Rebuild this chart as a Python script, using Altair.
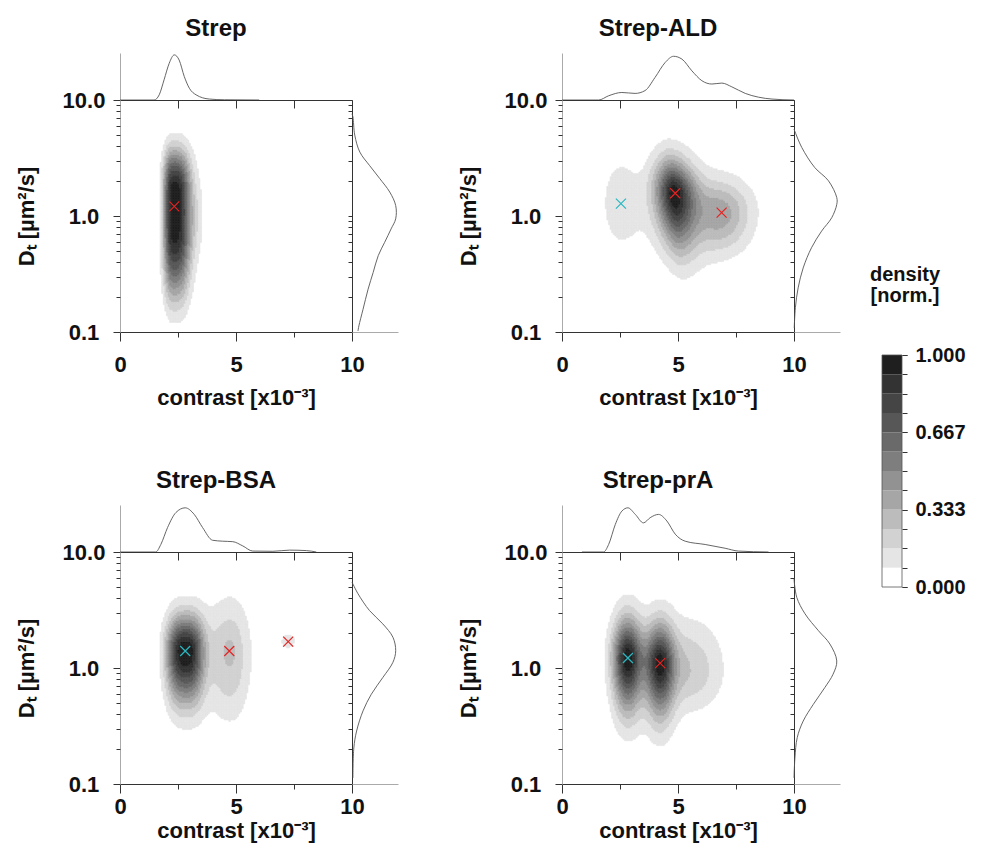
import numpy as np
import pandas as pd
import altair as alt

alt.data_transformers.disable_max_rows()

FONT = "Liberation Sans"

# ---------------- data ----------------
panel_names = ["Strep", "Strep-ALD", "Strep-BSA", "Strep-prA"]

# colour levels of the filled contours (12 bands of normalised density)
level_edges = [k / 12 for k in range(1, 12)]
level_greys = ["#ffffff", "#e5e5e5", "#d2d2d2", "#bcbcbc", "#a6a6a6", "#929292",
               "#7e7e7e", "#6a6a6a", "#575757", "#454545", "#333333", "#1f1f1f"]

# density blobs: contrast, D centre, sx left, sx right, s down, s up (log10 D),
#                weight, x sharpness, D sharpness, shear
strep_blobs = [
    (2.35, 1.26, 0.35, 0.50, 0.60, 0.36, 1.00, 2.6, 3.0, 0.0),
    (3.20, 1.00, 0.30, 0.30, 0.28, 0.28, 0.15, 2.0, 2.0, 0.0),
]
ald_blobs = [
    (4.85, 1.58, 0.52, 0.62, 0.30, 0.19, 1.00, 1.8, 1.8, -0.5),
    (6.90, 1.07, 0.70, 0.90, 0.23, 0.19, 0.36, 2.0, 2.0, 0.0),
    (2.50, 1.32, 0.55, 0.55, 0.27, 0.27, 0.14, 2.0, 2.0, 0.0),
    (5.00, 1.12, 1.60, 1.60, 0.28, 0.28, 0.11, 2.0, 2.0, 0.0),
]
bsa_blobs = [
    (2.81, 1.40, 0.60, 0.60, 0.30, 0.21, 1.00, 2.6, 2.0, 0.0),
    (4.75, 1.30, 0.80, 0.60, 0.38, 0.33, 0.26, 2.0, 2.0, 0.0),
    (4.72, 1.40, 0.12, 0.12, 0.05, 0.05, 0.07, 2.0, 2.0, 0.0),
    (7.25, 1.70, 0.28, 0.28, 0.057, 0.057, 0.13, 2.0, 2.0, 0.0),
]
pra_blobs = [
    (2.84, 1.22, 0.45, 0.45, 0.295, 0.225, 1.00, 2.0, 1.8, 0.0),
    (4.23, 1.10, 0.45, 0.45, 0.295, 0.225, 0.97, 2.0, 1.8, 0.0),
    (5.50, 0.95, 0.60, 1.00, 0.24, 0.30, 0.24, 2.0, 2.0, 0.0),
]

# peak markers (contrast, D)
strep_red = [(2.34, 1.21)]
strep_cyan = []
ald_red = [(4.88, 1.57), (6.88, 1.07)]
ald_cyan = [(2.54, 1.28)]
bsa_red = [(4.71, 1.40), (7.25, 1.69)]
bsa_cyan = [(2.81, 1.40)]
pra_red = [(4.23, 1.10)]
pra_cyan = [(2.84, 1.22)]

# top marginals: contrast vs relative density
strep_top_x = [0, 1.47, 1.69, 1.90, 2.12, 2.34, 2.55, 2.77, 2.99, 3.28, 3.85, 4.5, 6.0]
strep_top_h = [0, 0, 0.11, 0.43, 0.78, 0.96, 0.85, 0.50, 0.25, 0.11, 0.02, 0.005, 0]
ald_top_x = [0, 1.58, 2.01, 2.58, 3.15, 3.58, 4.01, 4.45, 4.81, 5.17, 5.6, 6.03, 6.46, 6.89, 7.32, 7.9, 8.47, 9.05, 10]
ald_top_h = [0, 0, 0.09, 0.16, 0.14, 0.20, 0.48, 0.80, 0.93, 0.87, 0.62, 0.41, 0.34, 0.36, 0.28, 0.14, 0.06, 0.02, 0]
bsa_top_x = [0, 1.54, 1.76, 2.05, 2.41, 2.81, 3.2, 3.56, 3.99, 4.43, 4.86, 5.29, 5.72, 6.59, 7.31, 8.03, 8.46]
bsa_top_h = [0, 0, 0.16, 0.52, 0.84, 0.94, 0.80, 0.52, 0.25, 0.23, 0.22, 0.13, 0.02, 0.015, 0.04, 0.03, 0]
pra_top_x = [0.86, 1.79, 2.01, 2.30, 2.58, 2.84, 3.16, 3.51, 3.80, 4.16, 4.52, 4.88, 5.31, 6.17, 7.03, 7.6, 8.9]
pra_top_h = [0, 0, 0.16, 0.59, 0.87, 0.94, 0.80, 0.62, 0.73, 0.80, 0.66, 0.38, 0.23, 0.16, 0.08, 0.02, 0]

# right marginals: D vs relative density
strep_side_d = [7.6, 7.16, 4.98, 3.56, 2.73, 2.11, 1.61, 1.23, 0.946, 0.774, 0.593, 0.455, 0.326, 0.234, 0.157, 0.113, 0.102]
strep_side_w = [0, 0.02, 0.06, 0.17, 0.38, 0.60, 0.82, 0.95, 0.95, 0.85, 0.71, 0.57, 0.46, 0.35, 0.24, 0.15, 0.13]
ald_side_d = [5.61, 3.89, 2.62, 2.01, 1.44, 1.26, 0.966, 0.741, 0.532, 0.357, 0.240, 0.162, 0.108]
ald_side_w = [0, 0.17, 0.45, 0.75, 0.93, 0.93, 0.82, 0.60, 0.38, 0.20, 0.09, 0.03, 0.005]
bsa_side_d = [5.50, 4.37, 3.13, 2.40, 1.84, 1.41, 1.12, 0.828, 0.594, 0.427, 0.286, 0.205, 0.113]
bsa_side_w = [0, 0.13, 0.38, 0.67, 0.89, 0.95, 0.89, 0.67, 0.42, 0.24, 0.10, 0.04, 0.02]
pra_side_d = [5.89, 4.07, 2.93, 2.10, 1.61, 1.15, 0.885, 0.678, 0.486, 0.349, 0.251, 0.168, 0.113]
pra_side_w = [0, 0.06, 0.24, 0.53, 0.78, 0.93, 0.85, 0.67, 0.42, 0.20, 0.07, 0.02, 0]

# axis ticks
x_major = [0, 5, 10]
x_minor = [2.5, 7.5]
x_top = [2.5, 5, 7.5]
y_major = [0.1, 1, 10]
y_minor = [0.2, 0.3, 0.4, 0.5, 0.6, 0.7, 0.8, 0.9, 2, 3, 4, 5, 6, 7, 8, 9]
cbar_ticks = [k / 12 for k in range(13)]
cbar_labels = [0, 1 / 3, 2 / 3, 1]

# ---------------- helpers ----------------
CROSS = "M-1,-1L1,1M-1,1L1,-1"
N = 145


def density_frame(blobs):
    xe = np.linspace(0, 10, N + 1)
    ue = np.linspace(-1, 1, N + 1)
    xc = (xe[:-1] + xe[1:]) / 2
    uc = (ue[:-1] + ue[1:]) / 2
    X, U = np.meshgrid(xc, uc)
    Z = np.zeros_like(X)
    for cx, cd, sxl, sxr, sdn, sup, w, px, pu, shear in blobs:
        cu = np.log10(cd)
        du = U - cu
        dx = X - cx - shear * du
        sx = np.where(dx < 0, sxl, sxr)
        su = np.where(du < 0, sdn, sup)
        Z += w * np.exp(-0.5 * (np.abs(dx / sx) ** px + np.abs(du / su) ** pu))
    Z = Z / Z.max()
    ii, jj = np.nonzero(Z >= 1 / 12)
    return pd.DataFrame({
        "x": np.round(xe[jj], 4), "x2": np.round(xe[jj + 1], 4),
        "d": np.round(10 ** ue[ii], 5), "d2": np.round(10 ** ue[ii + 1], 5),
        "z": np.round(Z[ii, jj], 4),
    })


color_scale = alt.Scale(type="threshold", domain=level_edges, range=level_greys)
xscale = alt.Scale(domain=[0, 10], nice=False, zero=False)
yscale = alt.Scale(type="log", domain=[0.1, 10], nice=False)


def main_chart(blobs, red, cyan, row):
    df = density_frame(blobs)
    lab_pad = 13 if row == 0 else 3
    ttl_pad = 12 if row == 0 else 3
    heat = alt.Chart(df).mark_rect(strokeWidth=0.6).encode(
        x=alt.X("x:Q", scale=xscale, axis=alt.Axis(
            values=x_major, format="d", tickSize=9, labelPadding=lab_pad,
            title="contrast [x10⁻³]", titlePadding=ttl_pad, domainColor="#333333", orient="bottom")),
        x2="x2:Q",
        y=alt.Y("d:Q", scale=yscale, axis=alt.Axis(
            values=y_major, format=".1f", tickSize=7, labelPadding=29.5, labelAlign="center",
            labelBaseline="middle", title="Dₜ [µm²/s]", titlePadding=24,
            domainColor="#aaaaaa", orient="left")),
        y2="d2:Q",
        color=alt.Color("z:Q", scale=color_scale, legend=None),
        stroke=alt.Stroke("z:Q", scale=color_scale, legend=None),
    )
    dummy = pd.DataFrame({"x": [0.0], "d": [1.0]})
    minor = alt.Chart(dummy).mark_point(opacity=0).encode(
        x=alt.X("x:Q", scale=xscale, axis=alt.Axis(values=x_minor, tickSize=5, labels=False,
                                                    domain=False, title=None, orient="bottom")),
        y=alt.Y("d:Q", scale=yscale, axis=alt.Axis(values=y_minor, tickSize=4, labels=False,
                                                    domain=False, title=None, orient="left")),
    )
    inner = alt.Chart(dummy).mark_point(opacity=0).encode(
        x=alt.X("x:Q", scale=xscale, axis=alt.Axis(values=x_top, orient="top", offset=-8, tickSize=8,
                                                    labels=False, domain=False, title=None)),
        y=alt.Y("d:Q", scale=yscale, axis=alt.Axis(values=y_minor + y_major, orient="right", offset=-4,
                                                    tickSize=4, labels=False, domain=False, title=None)),
    )
    layers = [heat, minor, inner]
    for pts, col in ((red, "#e62222"), (cyan, "#2ab8c2")):
        if pts:
            pdf = pd.DataFrame({"x": [p[0] for p in pts], "d": [p[1] for p in pts]})
            layers.append(alt.Chart(pdf).mark_point(shape=CROSS, size=100, filled=False, strokeWidth=1.2,
                                                    color=col, opacity=1).encode(
                x=alt.X("x:Q", scale=xscale, axis=None),
                y=alt.Y("d:Q", scale=yscale, axis=None)))
    return alt.layer(*layers).resolve_axis(x="independent", y="independent").properties(
        width=232, height=232, view=alt.ViewBackground(stroke="#333333", strokeWidth=1))


def top_chart(name, xs, hs):
    df = pd.DataFrame({"x": xs, "h": hs})
    return alt.Chart(df).mark_line(color="#555555", strokeWidth=0.9, interpolate="monotone").encode(
        x=alt.X("x:Q", scale=xscale, axis=None),
        y=alt.Y("h:Q", scale=alt.Scale(domain=[0, 1], nice=False),
                axis=alt.Axis(ticks=False, labels=False, domainColor="#aaaaaa", title=None)),
    ).properties(width=232, height=47, title=alt.TitleParams(name, dx=-20, offset=12))


def side_chart(ds, ws):
    df = pd.DataFrame({"d": ds, "w": ws})
    return alt.Chart(df).mark_line(color="#555555", strokeWidth=0.9, interpolate="catmull-rom").encode(
        x=alt.X("w:Q", scale=alt.Scale(domain=[0, 1], nice=False),
                axis=alt.Axis(ticks=False, labels=False, domainColor="#aaaaaa", title=None)),
        y=alt.Y("d:Q", scale=yscale, axis=None),
        order=alt.Order("d:Q", sort="descending"),
    ).properties(width=46, height=232)


spacer_df = pd.DataFrame({"v": [0]})


def spacer(w, h):
    return alt.Chart(spacer_df).mark_point(opacity=0).encode(
        x=alt.X("v:Q", axis=None), y=alt.Y("v:Q", axis=None)).properties(width=w, height=h)


# colour bar
bands = pd.DataFrame({
    "lo": [k / 12 for k in range(12)],
    "hi": [(k + 1) / 12 for k in range(12)],
    "mid": [(k + 0.5) / 12 for k in range(12)],
    "a": [0] * 12, "b": [1] * 12,
})
cb_y = alt.Scale(domain=[0, 1], range=[255, 23], nice=False, zero=False)
cb_x = alt.Scale(domain=[0, 1], nice=False, zero=False)
cb_rects = alt.Chart(bands).mark_rect().encode(
    x=alt.X("a:Q", scale=cb_x, axis=None), x2="b:Q",
    y=alt.Y("lo:Q", scale=cb_y, axis=alt.Axis(
        orient="right", values=cbar_ticks, tickSize=5, labels=False, domain=False, title=None,
        tickColor="#333333")),
    y2="hi:Q",
    color=alt.Color("mid:Q", scale=color_scale, legend=None),
)
cb_frame = alt.Chart(pd.DataFrame({"a": [0], "b": [1], "lo": [0.0], "hi": [1.0]})).mark_rect(
    filled=False, color="#555555", strokeWidth=0.8).encode(
    x=alt.X("a:Q", scale=cb_x, axis=None), x2="b:Q",
    y=alt.Y("lo:Q", scale=cb_y, axis=alt.Axis(
        orient="right", values=cbar_labels, tickSize=5, labelPadding=8, domain=False, title=None,
        format=".3f", labelFontSize=20, tickColor="#333333", labelOverlap=False)),
    y2="hi:Q")
colorbar = alt.layer(cb_rects, cb_frame).resolve_axis(y="independent").properties(
    width=20, height=173,
    title=alt.TitleParams(["density", "[norm.]"], fontSize=20, dx=13, offset=26, lineHeight=21))

# ---------------- layout grid ----------------
cols = [232, 46, 164, 232, 46, 42, 20]
rows = [47, 232, 173, 47, 232]

tl_top = top_chart(panel_names[0], strep_top_x, strep_top_h)
tr_top = top_chart(panel_names[1], ald_top_x, ald_top_h)
bl_top = top_chart(panel_names[2], bsa_top_x, bsa_top_h)
br_top = top_chart(panel_names[3], pra_top_x, pra_top_h)

tl_main = main_chart(strep_blobs, strep_red, strep_cyan, 0)
tr_main = main_chart(ald_blobs, ald_red, ald_cyan, 0)
bl_main = main_chart(bsa_blobs, bsa_red, bsa_cyan, 1)
br_main = main_chart(pra_blobs, pra_red, pra_cyan, 1)

tl_side = side_chart(strep_side_d, strep_side_w)
tr_side = side_chart(ald_side_d, ald_side_w)
bl_side = side_chart(bsa_side_d, bsa_side_w)
br_side = side_chart(pra_side_d, pra_side_w)

grid = [
    [tl_top, None, None, tr_top, None, None, None],
    [tl_main, tl_side, None, tr_main, tr_side, None, None],
    [None, None, None, None, None, None, colorbar],
    [bl_top, None, None, br_top, None, None, None],
    [bl_main, bl_side, None, br_main, br_side, None, None],
]
cells = []
for r, row in enumerate(grid):
    for c, item in enumerate(row):
        cells.append(item if item is not None else spacer(cols[c], rows[r]))

chart = alt.concat(*cells, columns=7, spacing=0, bounds="flush", align="each").resolve_scale(
    x="independent", y="independent", color="independent", stroke="independent"
).properties(
    padding={"left": 6, "top": 8, "right": 5, "bottom": 5}
).configure(
    font=FONT
).configure_view(
    stroke="transparent"
).configure_axis(
    labelFont=FONT, titleFont=FONT, labelFontWeight="bold", titleFontWeight="bold",
    labelFontSize=22, titleFontSize=22, labelColor="#111111", titleColor="#111111",
    grid=False, labelFlush=False, tickColor="#333333"
).configure_title(
    font=FONT, fontSize=24, fontWeight="bold", color="#111111", anchor="middle"
)

chart.save("out.html", embed_options={"renderer": "svg", "actions": False})
